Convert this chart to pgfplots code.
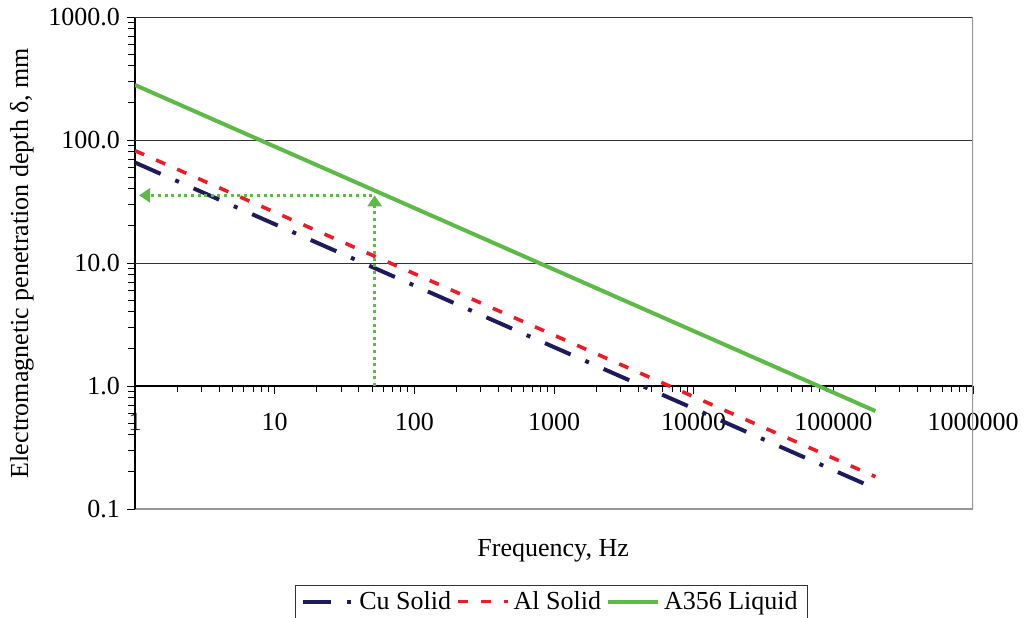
\documentclass[border=0pt]{standalone}
\usepackage{fontspec}
\setmainfont{Liberation Serif}
\usepackage{pgfplots}
\pgfplotsset{compat=1.18}
\usetikzlibrary{arrows.meta}

\definecolor{cuNavy}{RGB}{30,27,92}
\definecolor{alRed}{RGB}{237,28,36}
\definecolor{aGreen}{RGB}{94,186,70}
\definecolor{frameGray}{RGB}{150,150,150}

\newcommand{\chartfont}{\fontsize{13}{15}\selectfont}

\begin{document}
\begin{tikzpicture}
\path[use as bounding box] (0,0) rectangle (513pt,308.5pt);

% frequency axis, drawn along the 1 mm line
\begin{axis}[
  at={(67.5pt,115.5pt)}, anchor=south west,
  scale only axis, width=419pt, height=184.5pt,
  xmode=log, ymode=log,
  xmin=1, xmax=1e6, ymin=1, ymax=1000,
  axis x line*=bottom, axis y line=none,
  x axis line style={-, draw=black, line width=0.6pt},
  tick align=outside,
  xtick={1,10,100,1000,10000,100000,1000000},
  xticklabels={1,10,100,1000,10000,100000,1000000},
  minor xtick={2,3,4,5,6,7,8,9,20,30,40,50,60,70,80,90,200,300,400,500,600,700,800,900,2000,3000,4000,5000,6000,7000,8000,9000,20000,30000,40000,50000,60000,70000,80000,90000,200000,300000,400000,500000,600000,700000,800000,900000},
  major tick length=4pt, minor tick length=3pt,
  tick style={black, line width=0.5pt},
  xticklabel style={font=\chartfont, yshift=-6pt},
]
\end{axis}

\begin{axis}[
  at={(67.5pt,54pt)}, anchor=south west,
  scale only axis, width=419pt, height=246pt,
  xmode=log, ymode=log,
  xmin=1, xmax=1e6, ymin=0.1, ymax=1000,
  axis x line*=bottom, axis y line*=left,
  x axis line style={-, draw=frameGray, line width=0.8pt},
  y axis line style={-, draw=black, line width=0.6pt},
  xtick=\empty,
  ytick={0.1,1,10,100,1000},
  yticklabels={0.1,1.0,10.0,100.0,1000.0},
  minor ytick={0.2,0.3,0.4,0.5,0.6,0.7,0.8,0.9,2,3,4,5,6,7,8,9,20,30,40,50,60,70,80,90,200,300,400,500,600,700,800,900},
  tick align=outside,
  major tick length=4pt, minor tick length=3.5pt,
  tick style={black, line width=0.5pt},
  yticklabel style={font=\chartfont},
  extra y ticks={10,100,1000},
  extra y tick labels={},
  extra y tick style={ymajorgrids=true, major tick length=0pt},
  major grid style={black!80, line width=0.5pt},
  xlabel={Frequency, Hz},
  ylabel={Electromagnetic penetration depth δ, mm},
  label style={font=\chartfont},
  xlabel style={at={(axis description cs:0.499,-0.085)}, anchor=center},
  ylabel style={at={(axis description cs:-0.135,0.5)}, anchor=center},
  legend columns=3,
  legend style={at={(axis description cs:0.497,-0.1535)}, anchor=north,
    draw=black!80, line width=0.5pt, font=\chartfont,
    inner ysep=1pt,
    /tikz/every even column/.append style={column sep=0.5pt}},
  legend image code/.code={\draw[#1] (0pt,0pt) -- (25pt,0pt);},
]
\draw[frameGray, line width=0.8pt] (rel axis cs:1,0) -- (rel axis cs:1,1);

% penetration depth, delta ~ f^(-1/2)
\addplot[cuNavy, line width=2pt, dash pattern=on 14pt off 8pt on 2pt off 8pt]
  coordinates {(1,65.6) (10,20.7) (100,6.56) (1000,2.07) (10000,0.656) (100000,0.207) (200000,0.1467)};
\addlegendentry{Cu Solid}
\addplot[alRed, line width=1.8pt, dash pattern=on 5pt off 6.5pt]
  coordinates {(1,81.9) (10,25.9) (100,8.19) (1000,2.59) (10000,0.819) (100000,0.259) (200000,0.1831)};
\addlegendentry{Al Solid}
\addplot[aGreen, line width=2pt]
  coordinates {(1,280) (10,88.5) (100,28.0) (1000,8.85) (10000,2.80) (100000,0.885) (200000,0.626)};
\addlegendentry{A356 Liquid}

% reading at 50 Hz
\addplot[forget plot, aGreen, line width=1.5pt, dash pattern=on 1.5pt off 1.8pt,
  -{Triangle[width=7pt,length=5.5pt]}]
  coordinates {(52,1) (52,35.5)};
\addplot[forget plot, aGreen, line width=1.5pt, dash pattern=on 1.5pt off 1.8pt,
  -{Triangle[width=7pt,length=5.5pt]}]
  coordinates {(50,35.5) (1.07,35.5)};
\end{axis}
\end{tikzpicture}
\end{document}
